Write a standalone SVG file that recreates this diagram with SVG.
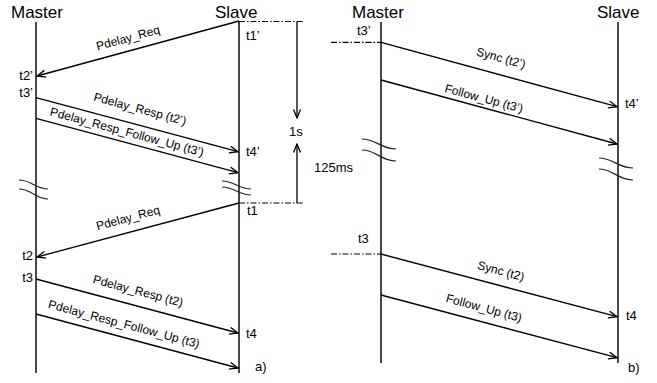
<svg xmlns="http://www.w3.org/2000/svg" width="657" height="383" viewBox="0 0 657 383">
<style>
.bg{fill:#fff}
.life{stroke:#333;stroke-width:1.8;fill:none}
.msg{stroke:#000;stroke-width:1.3;fill:none;marker-end:url(#ah)}
.dd{stroke:#000;stroke-width:1.2;fill:none;stroke-dasharray:6 2 1.5 2}
.brk{stroke:#222;stroke-width:1.2;fill:none}
.h{font-family:"Liberation Sans",Arial,sans-serif;font-size:17px;fill:#000}
.t{font-family:"Liberation Sans",Arial,sans-serif;font-size:13px;fill:#000}
.m{font-family:"Liberation Sans",Arial,sans-serif;font-size:12px;fill:#000;text-anchor:middle}
</style>
<defs>
<marker id="ah" markerWidth="10" markerHeight="10" refX="9" refY="4" orient="auto" markerUnits="userSpaceOnUse">
<path d="M0.5,0.5 L9,4 L0.5,7.5" fill="none" stroke="#000" stroke-width="1.3"/>
</marker>
</defs>
<rect class="bg" x="0" y="0" width="657" height="383"/>

<g id="master-a">
<text class="h" x="11" y="18">Master</text>
<line class="life" x1="36" y1="22" x2="36" y2="373"/>
<path class="brk" d="M19,180 C31,180 36,189 48,189"/>
<path class="brk" d="M19,189 C31,189 36,199 48,199"/>
<text class="t" x="33" y="80" text-anchor="end">t2’</text>
<text class="t" x="33" y="97" text-anchor="end">t3’</text>
<text class="t" x="33" y="260" text-anchor="end">t2</text>
<text class="t" x="33" y="282" text-anchor="end">t3</text>
</g>

<g id="slave-a">
<text class="h" x="215" y="18">Slave</text>
<line class="life" x1="239" y1="21" x2="239" y2="373"/>
<path class="brk" d="M222,181 C234,181 239,189 251,189"/>
<path class="brk" d="M222,187 C234,187 239,195 251,195"/>
<text class="t" x="246" y="40">t1’</text>
<text class="t" x="246" y="156">t4’</text>
<text class="t" x="247" y="215">t1</text>
<text class="t" x="246" y="338">t4</text>
<text class="t" x="255" y="371">a)</text>
</g>

<g id="interval-a">
<line class="dd" x1="239" y1="21.5" x2="304" y2="21.5"/>
<line class="dd" x1="239" y1="203" x2="304" y2="203"/>
<line class="msg" x1="297" y1="22" x2="297" y2="118"/>
<line class="msg" x1="297" y1="203" x2="297" y2="144"/>
<text class="t" x="289" y="136">1s</text>
<text class="t" x="314" y="172">125ms</text>
</g>

<g id="master-b">
<text class="h" x="352" y="18">Master</text>
<line class="life" x1="381" y1="22" x2="381" y2="363"/>
<path class="brk" d="M362,139 C376,139 381,149 396,149"/>
<path class="brk" d="M362,150 C376,150 381,161 396,161"/>
<line class="dd" x1="331" y1="42.3" x2="381" y2="42.3"/>
<line class="dd" x1="331" y1="254" x2="381" y2="254"/>
<text class="t" x="357" y="35">t3’</text>
<text class="t" x="358" y="243">t3</text>
</g>

<g id="slave-b">
<text class="h" x="597" y="18">Slave</text>
<line class="life" x1="618" y1="22" x2="618" y2="363"/>
<path class="brk" d="M599,158 C613,158 618,168 633,168"/>
<path class="brk" d="M599,169 C613,169 618,180 633,180"/>
<text class="t" x="625" y="108">t4’</text>
<text class="t" x="626" y="320">t4</text>
<text class="t" x="628" y="372">b)</text>
</g>

<g id="connectors">
<line class="msg" x1="239" y1="21" x2="37" y2="76"/>
<line class="msg" x1="36" y1="97.7" x2="238" y2="151.7"/>
<line class="msg" x1="36" y1="118.3" x2="238" y2="172.7"/>
<line class="msg" x1="239" y1="203" x2="37" y2="257"/>
<line class="msg" x1="36" y1="279" x2="238" y2="333"/>
<line class="msg" x1="36" y1="314" x2="238" y2="368"/>
<line class="msg" x1="381" y1="42.3" x2="617" y2="106.7"/>
<line class="msg" x1="381" y1="80" x2="617" y2="144"/>
<line class="msg" x1="381" y1="254" x2="617" y2="316.7"/>
<line class="msg" x1="381" y1="295" x2="617" y2="357.7"/>
</g>

<g id="labels">
<text class="m" x="128" y="42" transform="rotate(-15.2 128 38)">Pdelay_Req</text>
<text class="m" x="140" y="113" transform="rotate(15 140 109)">Pdelay_Resp (t2’)</text>
<text class="m" x="127" y="136" transform="rotate(15 127 132)">Pdelay_Resp_Follow_Up (t3’)</text>
<text class="m" x="128" y="222" transform="rotate(-15 128 218)">Pdelay_Req</text>
<text class="m" x="138" y="295" transform="rotate(15 138 291)">Pdelay_Resp (t2)</text>
<text class="m" x="124" y="328" transform="rotate(15 124 324)">Pdelay_Resp_Follow_Up (t3)</text>
<text class="m" x="501" y="62" transform="rotate(15.3 501 58)">Sync (t2’)</text>
<text class="m" x="484" y="102.5" transform="rotate(15 484 98.5)">Follow_Up (t3’)</text>
<text class="m" x="501" y="275" transform="rotate(15 501 271)">Sync (t2)</text>
<text class="m" x="484" y="312" transform="rotate(15 484 308)">Follow_Up (t3)</text>
</g>
</svg>
